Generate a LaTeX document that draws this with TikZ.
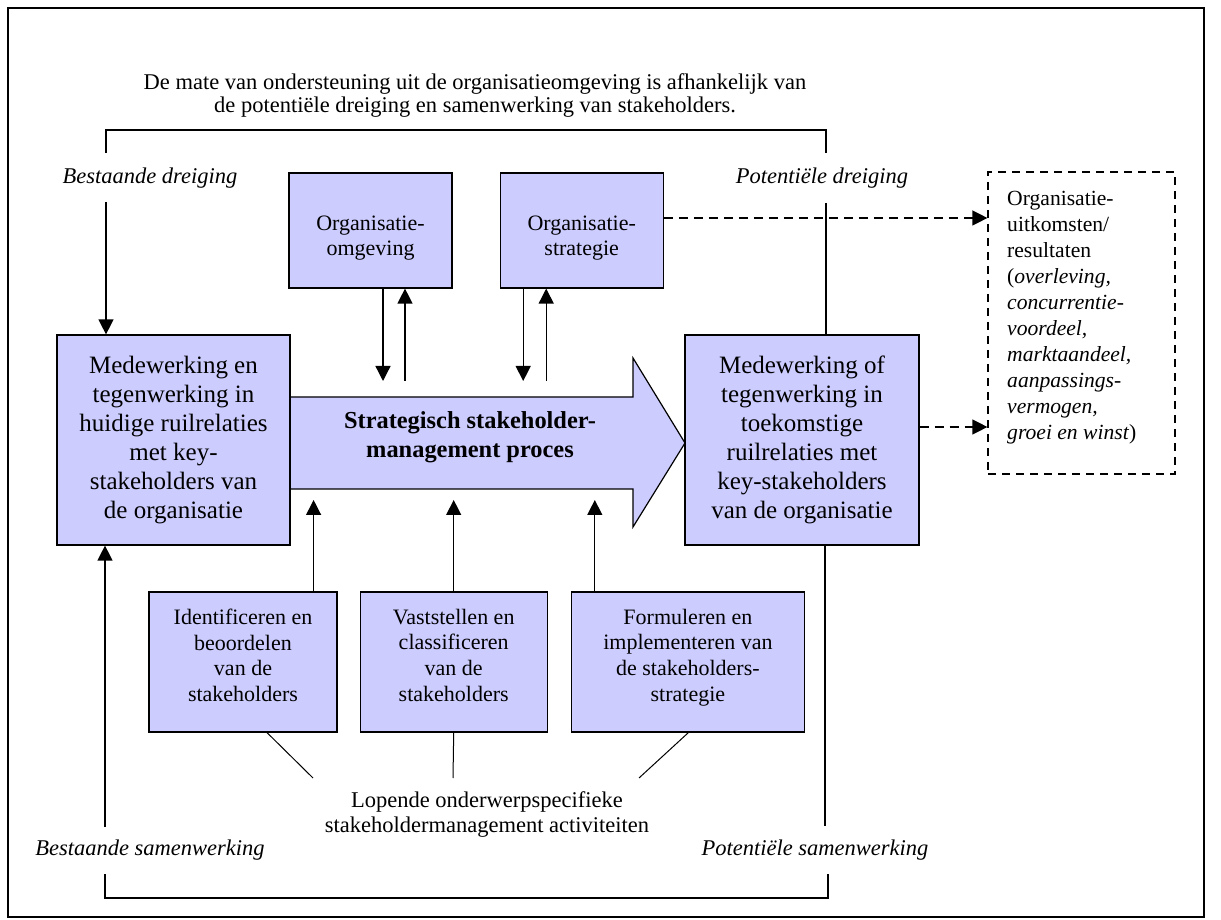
\documentclass[tikz,border=0pt]{standalone}
\usepackage{fontspec}
\setmainfont{Liberation Serif}
\usetikzlibrary{positioning, arrows.meta, calc}
\definecolor{boxFill}{HTML}{CCCCFF}
\newcommand{\fs}[2]{\fontsize{#1}{#2}\selectfont}

\begin{document}
\begin{tikzpicture}[x=1pt, y=1pt,
  box/.style={draw, fill=boxFill, line width=1.2pt, align=center, inner sep=0pt},
  lbl/.style={font=\fs{22.5}{26}\itshape},
  arr/.style={-{Triangle[width=15pt,length=15pt]}, line width=1.3pt},
  dsh/.style={arr, dash pattern=on 9pt off 6pt}]
\useasboundingbox (0,0) rectangle (1221,919);
\draw[line width=1.2pt] (8,2) rectangle (1204,911);
\node[font=\fs{22.5}{23}, align=center] (kop) at (475,823) {De mate van ondersteuning uit de organisatieomgeving is afhankelijk van\\de potentiële dreiging en samenwerking van stakeholders.};
% grote pijl
\draw[fill=boxFill, line width=1.2pt] (290,522) -- (633,522) -- (633,561) -- (685,476) -- (633,392) -- (633,430) -- (290,430);
\node[font=\fs{24.4}{29}\bfseries, align=center] (proces) at (470,482) {Strategisch stakeholder-\\management proces};
% blokken
\node[box, minimum width=233pt, minimum height=210pt, font=\fs{25}{29}] (huidig) at (173.5,479) {Medewerking en\\tegenwerking in\\huidige ruilrelaties\\met key-\\stakeholders van\\de organisatie};
\node[box, minimum width=234pt, minimum height=210pt, font=\fs{25}{29}] (toekomst) at (802,479) {Medewerking of\\tegenwerking in\\toekomstige\\ruilrelaties met\\key-stakeholders\\van de organisatie};
\node[box, minimum width=163pt, minimum height=115pt, font=\fs{22}{25.7}] (omgeving) at (370.5,688.5) {\mbox{}\\[4pt]Organisatie-\\omgeving};
\node[box, minimum width=163pt, minimum height=115pt, font=\fs{22}{25.7}, right=47pt of omgeving] (strategie) {\mbox{}\\[4pt]Organisatie-\\strategie};
\node[box, minimum width=188pt, minimum height=140pt, font=\fs{22}{25.7}] (ident) at (243,257) {Identificeren en\\beoordelen\\van de\\stakeholders\\[-12pt]\mbox{}};
\node[box, minimum width=187pt, minimum height=140pt, font=\fs{22}{25.7}, right=22pt of ident] (classif) {Vaststellen en\\classificeren\\van de\\stakeholders\\[-12pt]\mbox{}};
\node[box, minimum width=233pt, minimum height=140pt, font=\fs{22}{25.7}, right=23pt of classif] (formul) {Formuleren en\\implementeren van\\de stakeholders-\\strategie\\[-12pt]\mbox{}};
\node[draw, dash pattern=on 8pt off 6pt, line width=1.2pt, minimum width=187pt, minimum height=302pt] (uitkomst) at (1081.5,596) {};
\node[align=left, font=\fs{21.6}{26}, inner sep=0pt, anchor=north west] (uitktekst) at (1007,727.5) {Organisatie-\\uitkomsten/\\resultaten\\(\textit{overleving,}\\\textit{concurrentie-}\\\textit{voordeel,}\\\textit{marktaandeel,}\\\textit{aanpassings-}\\\textit{vermogen,}\\\textit{groei en winst})};
% labels
\node[lbl] (bd) at (150,741) {Bestaande dreiging};
\node[lbl] (pd) at (822,741) {Potentiële dreiging};
\node[lbl] (bs) at (150,69) {Bestaande samenwerking};
\node[lbl] (ps) at (815,69) {Potentiële samenwerking};
\node[font=\fs{22.5}{25}, align=center] (lopend) at (487,104.5) {Lopende onderwerpspecifieke\\stakeholdermanagement activiteiten};
% haken boven en onder
\draw[line width=1.2pt] (106,766) |- (826,789) -- (826,766);
\draw[line width=1.2pt] (105,45) |- (828,21) -- (828,45);
\coordinate (bdvoet) at (106,717);
\coordinate (pdvoet) at (826,716);
\coordinate (bsvoet) at (105,92);
\coordinate (psvoet) at (825,93);
\draw[arr] (bdvoet) -- (bdvoet |- huidig.north);
\draw[line width=1.2pt] (pdvoet) -- (pdvoet |- toekomst.north);
\draw[arr] (bsvoet) -- (bsvoet |- huidig.south);
\draw[line width=1.2pt] (toekomst.south -| psvoet) -- (psvoet);
% pijlen naar en van het proces
\coordinate (pijlboven) at (0,538);
\coordinate (pijlonder) at (0,419);
\draw[arr] ([xshift=12.5pt]omgeving.south) -- ([xshift=12.5pt]omgeving.south |- pijlboven);
\draw[arr] ([xshift=34.5pt]omgeving.south |- pijlboven) -- ([xshift=34.5pt]omgeving.south);
\draw[arr] ([xshift=-58.5pt]strategie.south) -- ([xshift=-58.5pt]strategie.south |- pijlboven);
\draw[arr] ([xshift=-35.5pt]strategie.south |- pijlboven) -- ([xshift=-35.5pt]strategie.south);
\draw[arr] ([xshift=-24pt]ident.north east) -- ([xshift=-24pt]ident.north east |- pijlonder);
\draw[arr] (classif.north) -- (classif.north |- pijlonder);
\draw[arr] ([xshift=24pt]formul.north west) -- ([xshift=24pt]formul.north west |- pijlonder);
% lijnen naar lopende activiteiten
\coordinate (l1) at (313,141);
\coordinate (l2) at (453,141);
\coordinate (l3) at (639,141);
\draw[line width=1pt] ([xshift=24pt]ident.south) -- (l1);
\draw[line width=1pt] (classif.south) -- (l2);
\draw[line width=1pt] ([xshift=0.5pt]formul.south) -- (l3);
% uitkomsten
\draw[dsh] ([yshift=12.5pt]strategie.east) -- ([yshift=12.5pt]strategie.east -| uitkomst.west);
\draw[dsh] ([yshift=13pt]toekomst.east) -- ([yshift=13pt]toekomst.east -| uitkomst.west);
\end{tikzpicture}
\end{document}
